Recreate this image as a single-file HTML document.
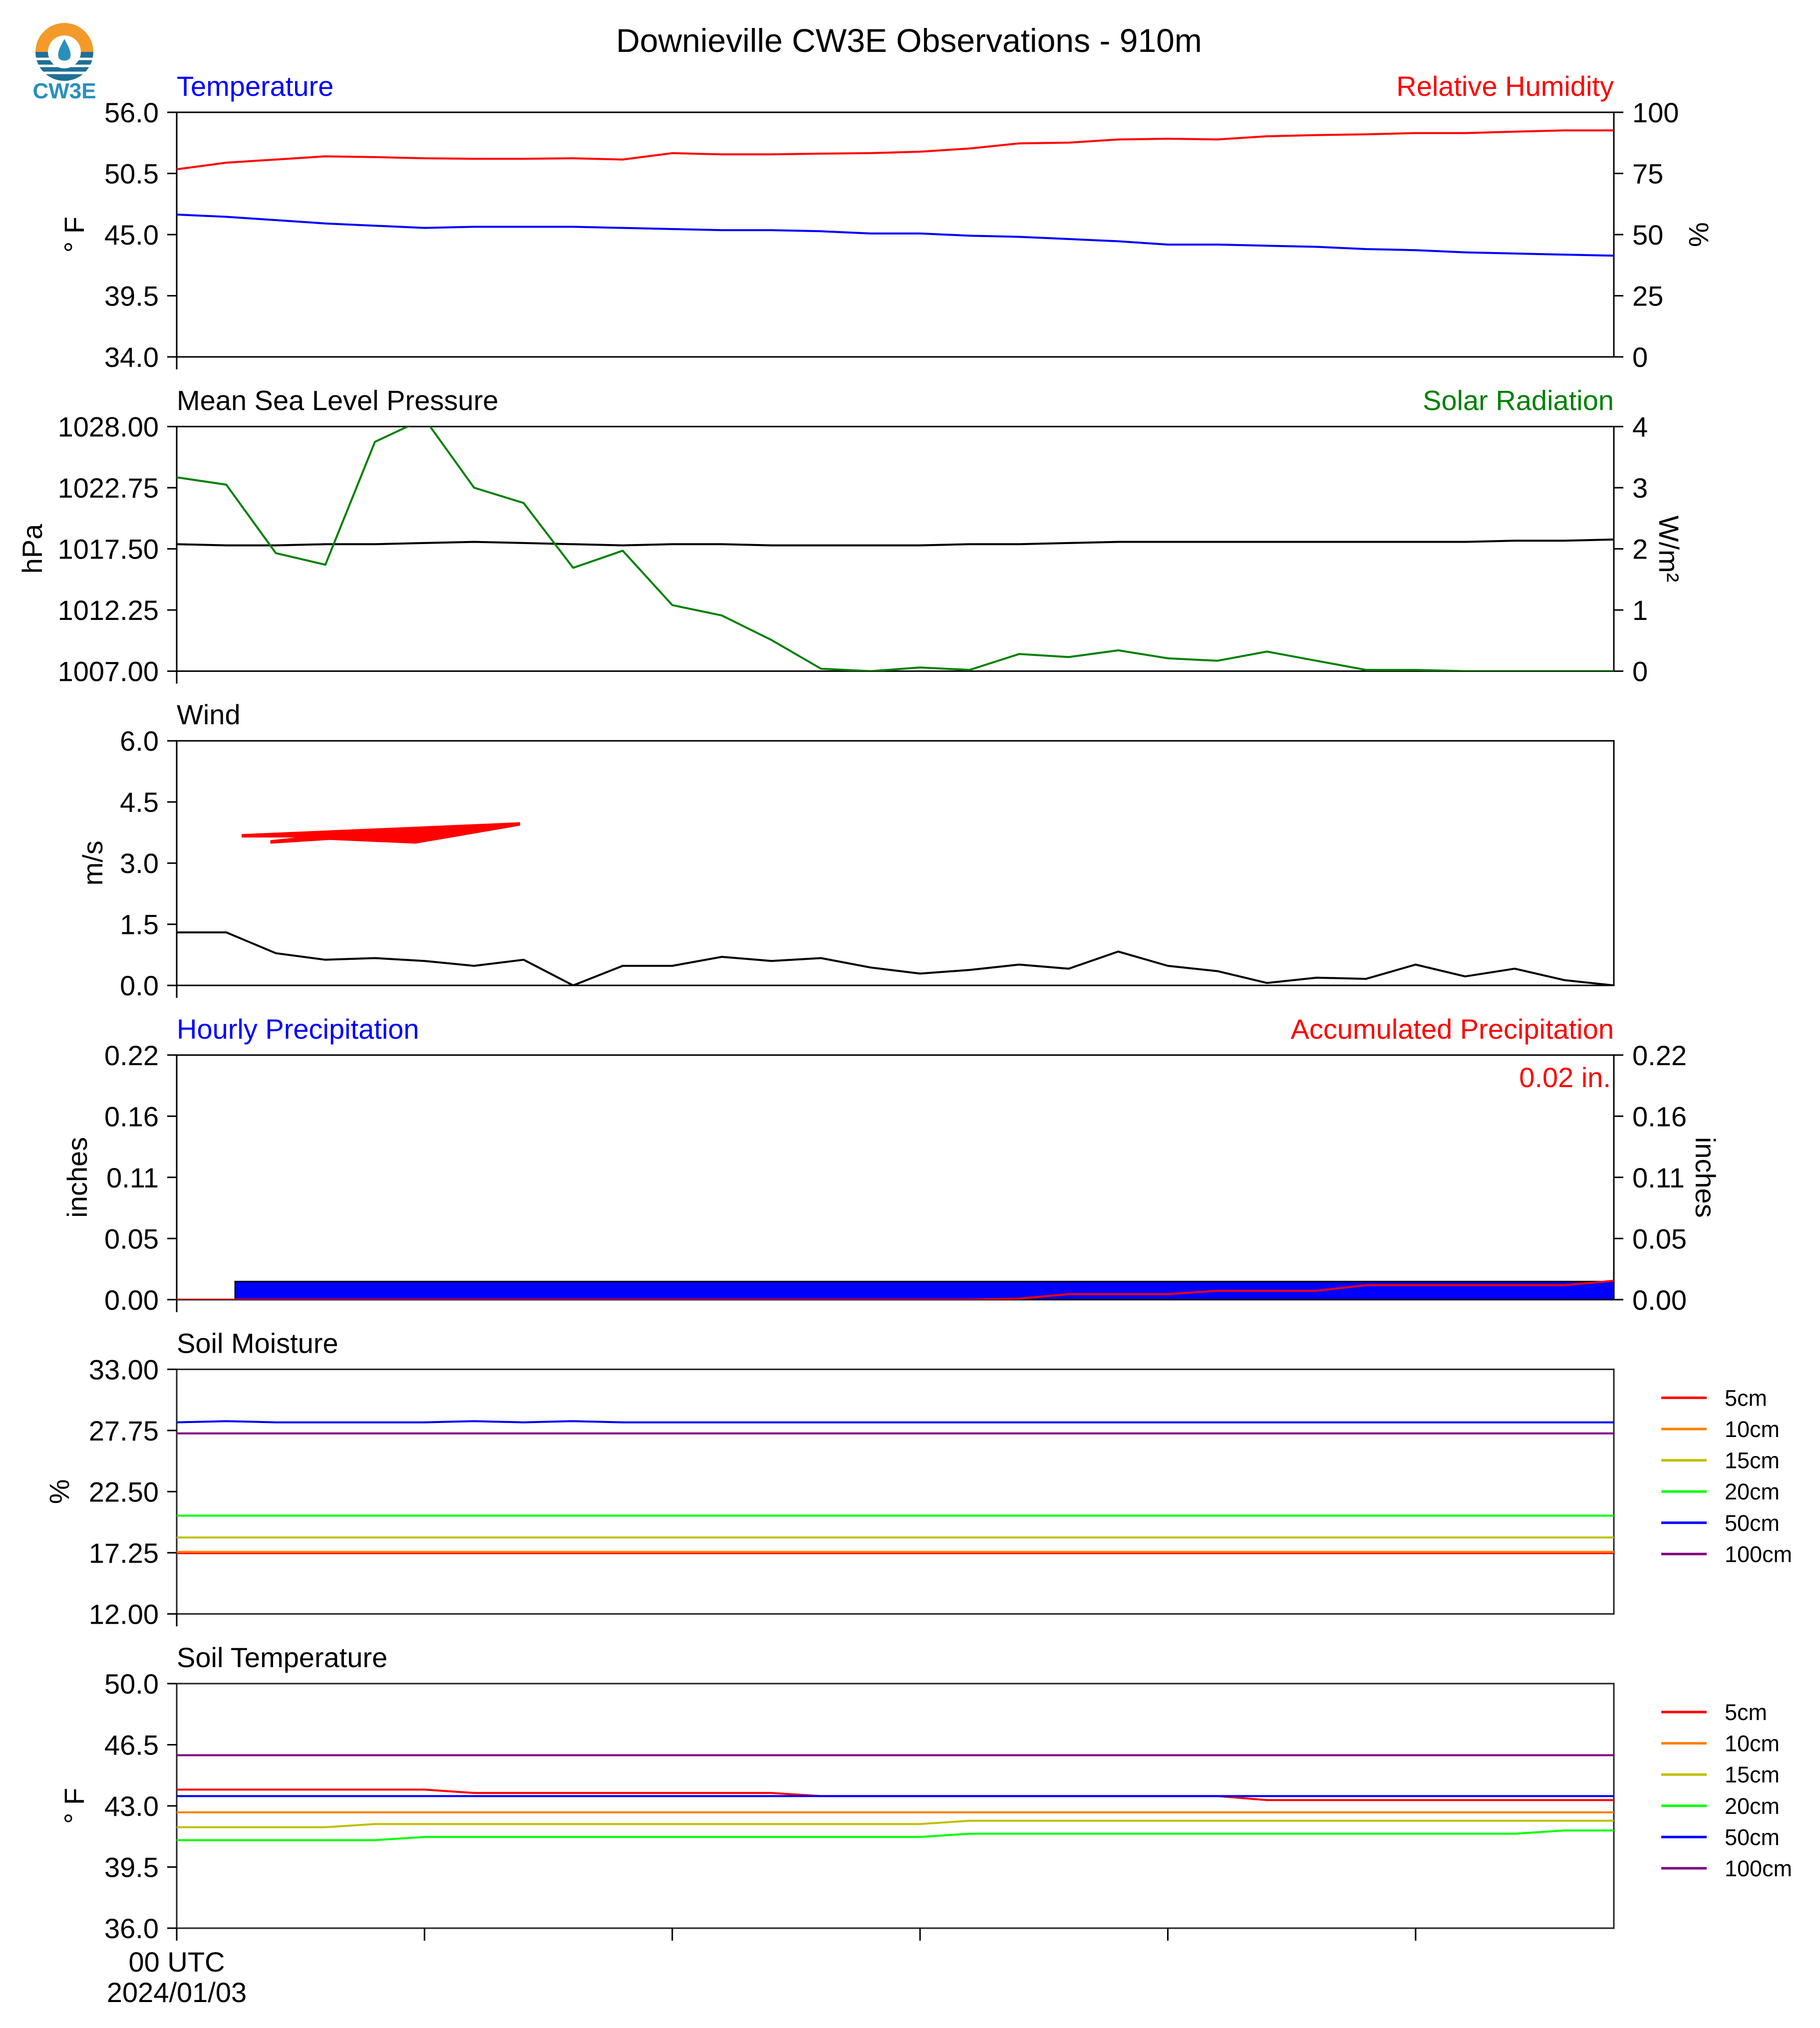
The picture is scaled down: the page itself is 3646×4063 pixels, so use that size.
<!DOCTYPE html>
<html><head><meta charset="utf-8"><style>
html,body{margin:0;padding:0;background:#fff}
svg{display:block;font-family:"Liberation Sans",Arial,sans-serif}
</style></head><body>
<svg id="fig" width="3646" height="4063" viewBox="0 0 3646 4063" xmlns="http://www.w3.org/2000/svg">
<rect x="0" y="0" width="3646" height="4063" fill="#fff"/>
<g>
  <path d="M71,104 A58,58 0 0 1 187,104 Z" fill="#f39a2b"/>
  <path d="M71,104 A58,58 0 0 0 187,104 Z" fill="#1f6f97"/>
  <line x1="72" y1="118" x2="186" y2="118" stroke="#fff" stroke-width="5"/>
  <line x1="76" y1="132" x2="182" y2="132" stroke="#fff" stroke-width="5"/>
  <line x1="85" y1="146" x2="173" y2="146" stroke="#fff" stroke-width="5"/>
  <circle cx="129" cy="104" r="33" fill="#fff"/>
  <path d="M129,78 C120,95 115,104 117,114 C119,124 139,124 141,114 C143,104 138,95 129,78 Z" fill="#2a8fbd"/>
  <text x="129" y="197" font-size="44" font-weight="bold" fill="#2a8fbd" text-anchor="middle">CW3E</text>
</g>
<text x="1821" y="104" font-size="66" text-anchor="middle" fill="#000">Downieville CW3E Observations - 910m</text>
<g id="marks"></g>
</svg>
<script>
// ---------- data ----------
const hours = [0,1,2,3,4,5,6,7,8,9,10,11,12,13,14,15,16,17,18,19,20,21,22,23,24,25,26,27,28,29];
const temperatureF = [46.8,46.6,46.3,46.0,45.8,45.6,45.7,45.7,45.7,45.6,45.5,45.4,45.4,45.3,45.1,45.1,44.9,44.8,44.6,44.4,44.1,44.1,44.0,43.9,43.7,43.6,43.4,43.3,43.2,43.1];
const humidityPct = [76.7,79.4,80.7,82.0,81.7,81.2,81.0,81.0,81.2,80.7,83.3,82.8,82.8,83.1,83.3,83.9,85.2,87.3,87.6,88.9,89.2,88.9,90.2,90.7,91.0,91.5,91.5,92.1,92.6,92.6];
const pressureHpa = [1017.9,1017.8,1017.8,1017.9,1017.9,1018.0,1018.1,1018.0,1017.9,1017.8,1017.9,1017.9,1017.8,1017.8,1017.8,1017.8,1017.9,1017.9,1018.0,1018.1,1018.1,1018.1,1018.1,1018.1,1018.1,1018.1,1018.1,1018.2,1018.2,1018.3];
const solarWm2 = [3.17,3.05,1.93,1.74,3.75,4.13,3.0,2.75,1.69,1.97,1.08,0.91,0.51,0.04,0.0,0.06,0.02,0.28,0.23,0.34,0.21,0.17,0.32,0.17,0.02,0.02,0.0,0.0,0.0,0.0];
const windMs = [1.30,1.30,0.79,0.63,0.67,0.60,0.48,0.63,0.0,0.48,0.48,0.70,0.60,0.67,0.44,0.29,0.38,0.51,0.41,0.83,0.48,0.35,0.06,0.19,0.16,0.51,0.22,0.41,0.13,0.0];
const windArrowX = [1.32,6.92,6.92,4.82,3.09,1.90,1.90,2.58,1.32];
const windArrowV = [3.70,3.99,3.93,3.49,3.58,3.49,3.55,3.64,3.64];
const precipBarStart = [1.18];
const precipBarEnd = [29];
const precipBarValue = [0.0163];
const accumPrecip = [0,0,0,0,0,0,0,0,0,0,0,0,0,0,0,0,0,0.001,0.005,0.005,0.005,0.008,0.008,0.008,0.013,0.013,0.013,0.013,0.013,0.017];
const soilLabels = ["5cm","10cm","15cm","20cm","50cm","100cm"];
const soilColors = ["#ff0000","#ff8000","#bfbf00","#00ff00","#0000ff","#800080"];
const sm5 = hours.map(()=>17.22);
const sm10 = hours.map(()=>17.33);
const sm15 = hours.map(()=>18.56);
const sm20 = hours.map(()=>20.44);
const sm50 = [28.45,28.55,28.45,28.45,28.45,28.45,28.55,28.45,28.55,28.45,28.45,28.45,28.45,28.45,28.45,28.45,28.45,28.45,28.45,28.45,28.45,28.45,28.45,28.45,28.45,28.45,28.45,28.45,28.45,28.45];
const sm100 = hours.map(()=>27.5);
const st5 = [43.93,43.93,43.93,43.93,43.93,43.93,43.74,43.74,43.74,43.74,43.74,43.74,43.74,43.56,43.56,43.56,43.56,43.56,43.56,43.56,43.56,43.56,43.33,43.33,43.33,43.33,43.33,43.33,43.33,43.33];
const st10 = hours.map(()=>42.63);
const st15 = [41.78,41.78,41.78,41.78,41.96,41.96,41.96,41.96,41.96,41.96,41.96,41.96,41.96,41.96,41.96,41.96,42.15,42.15,42.15,42.15,42.15,42.15,42.15,42.15,42.15,42.15,42.15,42.15,42.15,42.15];
const st20 = [41.04,41.04,41.04,41.04,41.04,41.22,41.22,41.22,41.22,41.22,41.22,41.22,41.22,41.22,41.22,41.22,41.41,41.41,41.41,41.41,41.41,41.41,41.41,41.41,41.41,41.41,41.41,41.41,41.59,41.59];
const st50 = hours.map(()=>43.56);
const st100 = hours.map(()=>45.9);
const tempTicks = ["34.0","39.5","45.0","50.5","56.0"];
const rhTicks = ["0","25","50","75","100"];
const presTicks = ["1007.00","1012.25","1017.50","1022.75","1028.00"];
const solarTicks = ["0","1","2","3","4"];
const windTicks = ["0.0","1.5","3.0","4.5","6.0"];
const precipTicks = ["0.00","0.05","0.11","0.16","0.22"];
const smTicks = ["12.00","17.25","22.50","27.75","33.00"];
const stTicks = ["36.0","39.5","43.0","46.5","50.0"];
const xTickHours = [0,5,10,15,20,25];

// ---------- layout ----------
const NS="http://www.w3.org/2000/svg";
const X0=354, X1=3233, H=490, FS=56;
const tops=[225,854.6,1484.2,2113.8,2743.4,3373];
const root=document.getElementById('marks');
function el(tag, attrs, parent){const e=document.createElementNS(NS,tag);for(const k in attrs)e.setAttribute(k,attrs[k]);(parent||root).appendChild(e);return e;}
function xs(i){return X0+i*(X1-X0)/29;}
function ys(p,v,lo,hi){return tops[p]+H-(v-lo)/(hi-lo)*H;}

const defs=el('defs',{});
for(let p=0;p<6;p++){const c=el('clipPath',{id:'clip'+p},defs);el('rect',{x:X0,y:tops[p],width:X1-X0,height:H},c);}

function series(p,vals,lo,hi,color,name){
  const pts=vals.map((v,i)=>xs(i).toFixed(1)+','+ys(p,v,lo,hi).toFixed(1)).join(' ');
  const e=el('polyline',{points:pts,fill:'none',stroke:color,'stroke-width':4,'stroke-linejoin':'round','clip-path':'url(#clip'+p+')'});
  
  
}
function text(x,y,s,attrs,name){
  const t=el('text',Object.assign({x:x,y:y,'font-size':FS,fill:'#000'},attrs));
  t.textContent=s;
  
  
  return t;
}
function leftTicks(p,labels,name){
  labels.forEach((s,k)=>{const y=tops[p]+H-k*H/(labels.length-1);
    const tk=el('line',{x1:X0-19,y1:y,x2:X0,y2:y,stroke:'#000','stroke-width':3});
    
    
    text(318,y+20,s,{'text-anchor':'end'},name+'-tick-label');});
}
function rightTicks(p,labels,name){
  labels.forEach((s,k)=>{const y=tops[p]+H-k*H/(labels.length-1);
    const tk=el('line',{x1:X1,y1:y,x2:X1+19,y2:y,stroke:'#000','stroke-width':3});
    
    
    text(3270,y+20,s,{'text-anchor':'start'},name+'-tick-label');});
}
function frame(p,name,color){
  const r=el('rect',{x:X0,y:tops[p],width:X1-X0,height:H,fill:'none',stroke:color||'#000','stroke-width':3});
  
  
  const t=el('line',{x1:X0,y1:tops[p]+H,x2:X0,y2:tops[p]+H+25,stroke:'#000','stroke-width':3});
  
  
}
function vlabel(x,y,s,rot,name){
  return text(x,y,s,{'text-anchor':'middle',transform:'rotate('+rot+' '+x+' '+y+')'},name);
}
function legend(p){
  const y0=tops[p]+57;
  soilLabels.forEach((s,k)=>{const y=y0+k*62.6;
    const l=el('line',{x1:3328,y1:y,x2:3419,y2:y,stroke:soilColors[k],'stroke-width':5});
    
    
    text(3455,y+16,s,{'font-size':45},'legend-entry-'+s);});
}

// Panel 0
frame(0,'temperature-panel');
series(0,humidityPct,0,100,'#ff0000','humidity-line');
series(0,temperatureF,34,56,'#0000ff','temperature-line');
leftTicks(0,tempTicks,'temperature-axis');
rightTicks(0,rhTicks,'humidity-axis');
text(354,tops[0]-33,'Temperature',{fill:'#0000ff'},'temperature-title');
text(X1,tops[0]-33,'Relative Humidity',{fill:'#ff0000','text-anchor':'end'},'humidity-title');
vlabel(168,tops[0]+H/2,'° F',-90,'temperature-y-label');
vlabel(3384,tops[0]+H/2,'%',90,'humidity-y-label');

// Panel 1
frame(1,'pressure-panel');
series(1,pressureHpa,1007,1028,'#000000','pressure-line');
series(1,solarWm2,0,4,'#008000','solar-line');
leftTicks(1,presTicks,'pressure-axis');
rightTicks(1,solarTicks,'solar-axis');
text(354,tops[1]-33,'Mean Sea Level Pressure',{},'pressure-title');
text(X1,tops[1]-33,'Solar Radiation',{fill:'#008000','text-anchor':'end'},'solar-title');
vlabel(84,tops[1]+H/2,'hPa',-90,'pressure-y-label');
vlabel(3324,tops[1]+H/2,'W/m²',90,'solar-y-label');

// Panel 2
frame(2,'wind-panel');
series(2,windMs,0,6,'#000000','wind-line');
{
  const pts=windArrowX.map((x,i)=>xs(x).toFixed(1)+','+ys(2,windArrowV[i],0,6).toFixed(1)).join(' ');
  const a=el('polygon',{points:pts,fill:'#ff0000',stroke:'#ff0000','stroke-width':2,'stroke-linejoin':'round'});
  
  
}
leftTicks(2,windTicks,'wind-axis');
text(354,tops[2]-33,'Wind',{},'wind-title');
vlabel(205,tops[2]+H/2,'m/s',-90,'wind-y-label');

// Panel 3
frame(3,'precip-panel');
precipBarStart.forEach((s,k)=>{
  const x=xs(s), w=xs(precipBarEnd[k])-x, y=ys(3,precipBarValue[k],0,0.22);
  const b=el('rect',{x:x,y:y,width:w,height:tops[3]+H-y,fill:'#0000ff',stroke:'#000','stroke-width':3,'clip-path':'url(#clip3)'});
  
  
});
series(3,accumPrecip,0,0.22,'#ff0000','accumulated-precip-line');
leftTicks(3,precipTicks,'precip-axis');
rightTicks(3,precipTicks,'accum-precip-axis');
text(354,tops[3]-33,'Hourly Precipitation',{fill:'#0000ff'},'hourly-precip-title');
text(X1,tops[3]-33,'Accumulated Precipitation',{fill:'#ff0000','text-anchor':'end'},'accum-precip-title');
text(X1-6,tops[3]+64,(accumPrecip[accumPrecip.length-1]).toFixed(2)+' in.',{fill:'#ff0000','text-anchor':'end'},'accum-total-label');
vlabel(174,tops[3]+H/2,'inches',-90,'precip-y-label');
vlabel(3397,tops[3]+H/2,'inches',90,'accum-precip-y-label');

// Panel 4
frame(4,'soil-moisture-panel','#222');
[sm5,sm10,sm15,sm20,sm50,sm100].forEach((s,k)=>series(4,s,12,33,soilColors[k],'soil-moisture-'+soilLabels[k]));
leftTicks(4,smTicks,'soil-moisture-axis');
text(354,tops[4]-33,'Soil Moisture',{},'soil-moisture-title');
vlabel(138,tops[4]+H/2,'%',-90,'soil-moisture-y-label');
legend(4);

// Panel 5
frame(5,'soil-temperature-panel','#222');
[st5,st10,st15,st20,st50,st100].forEach((s,k)=>series(5,s,36,50,soilColors[k],'soil-temp-'+soilLabels[k]));
leftTicks(5,stTicks,'soil-temp-axis');
text(354,tops[5]-33,'Soil Temperature',{},'soil-temp-title');
vlabel(168,tops[5]+H/2,'° F',-90,'soil-temp-y-label');
legend(5);

xTickHours.forEach(h=>{
  const x=xs(h);
  const t=el('line',{x1:x,y1:tops[5]+H,x2:x,y2:tops[5]+H+25,stroke:'#000','stroke-width':3});
  
  
});
text(xs(0),3950,'00 UTC',{'text-anchor':'middle'},'x-tick-label');
text(xs(0),4011,'2024/01/03',{'text-anchor':'middle'},'x-date-label');
</script>
</body></html>
